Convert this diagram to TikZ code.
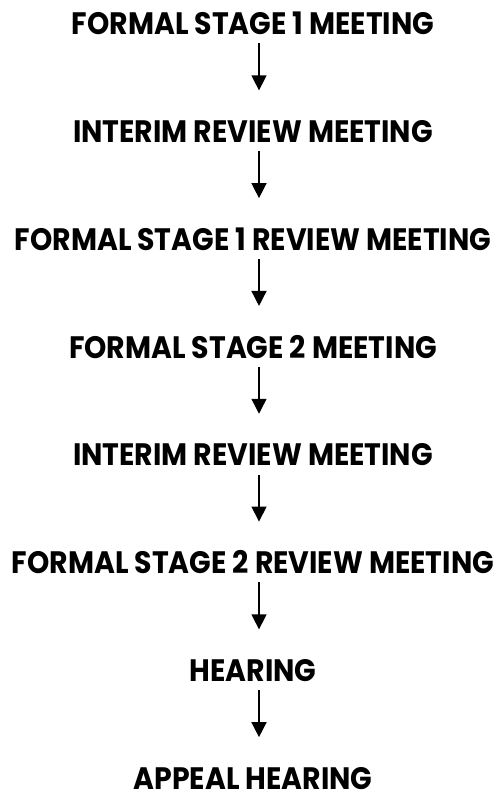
\documentclass[tikz,border=0pt]{standalone}
\usepackage{fontspec}
\setmainfont{Poppins}[FakeStretch=0.915]
\usetikzlibrary{positioning,arrows.meta}

\begin{document}
\begin{tikzpicture}[
  x=1pt, y=1pt,
  every node/.style={font=\fontsize{31}{31}\selectfont\bfseries},
  stagebox/.style={inner sep=0pt, text height=21.5pt, text depth=0pt},
  arrow/.style={-{Triangle[length=15pt,width=15pt]}, line width=1.5pt,
    shorten <=8.5pt, shorten >=30.5pt},
]
  \useasboundingbox (0,0) rectangle (496,-792);

  % Meetings (stacked, top to bottom)
  \node[stagebox] (m1) at (253,-24) {FORMAL STAGE 1 MEETING};
  \node[stagebox, below=85.9pt of m1] (m2) {INTERIM REVIEW MEETING};
  \node[stagebox, below=85.9pt of m2] (m3) {FORMAL STAGE 1 REVIEW MEETING};
  \node[stagebox, below=85.9pt of m3] (m4) {FORMAL STAGE 2 MEETING};
  \node[stagebox, below=85.9pt of m4] (m5) {INTERIM REVIEW MEETING};
  \node[stagebox, below=85.9pt of m5] (m6) {FORMAL STAGE 2 REVIEW MEETING};
  \node[stagebox, below=85.9pt of m6] (m7) {HEARING};
  \node[stagebox, below=85.9pt of m7] (m8) {APPEAL HEARING};

  % arrows between the meetings
  \draw[arrow] ([xshift=6pt]m1.south) -- ([xshift=6pt]m2.north);
  \draw[arrow] ([xshift=6pt]m2.south) -- ([xshift=6pt]m3.north);
  \draw[arrow] ([xshift=6pt]m3.south) -- ([xshift=6pt]m4.north);
  \draw[arrow] ([xshift=6pt]m4.south) -- ([xshift=6pt]m5.north);
  \draw[arrow] ([xshift=6pt]m5.south) -- ([xshift=6pt]m6.north);
  \draw[arrow] ([xshift=6pt]m6.south) -- ([xshift=6pt]m7.north);
  \draw[arrow] ([xshift=6pt]m7.south) -- ([xshift=6pt]m8.north);
\end{tikzpicture}
\end{document}
